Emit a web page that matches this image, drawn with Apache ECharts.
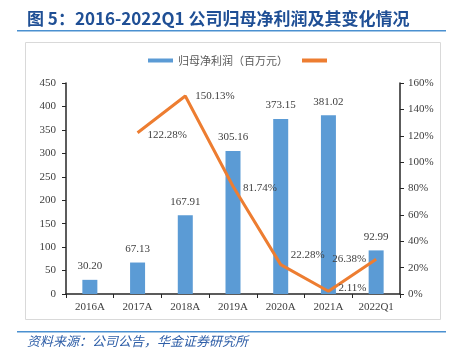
<!DOCTYPE html>
<html>
<head>
<meta charset="utf-8">
<script src="https://cdn.jsdelivr.net/npm/echarts@6/dist/echarts.min.js"></script>
<style>
  html, body { margin: 0; padding: 0; background: #fff; }
  #main { width: 458px; height: 354px; }
</style>
</head>
<body>
<div id="main"></div>
<script>
var categories = ['2016A', '2017A', '2018A', '2019A', '2020A', '2021A', '2022Q1'];
var netProfit = [30.20, 67.13, 167.91, 305.16, 373.15, 381.02, 92.99];
var growth = [null, 122.28, 150.13, 81.74, 22.28, 2.11, 26.38];
var growthLabelOffsets = [null, [0, 2], [0, 0], [0, 2], [0, -10], [0, -3], [0, 0]];

var serif = '"Liberation Serif", "Noto Sans CJK SC", serif';
var cjk = '"Noto Sans CJK SC", sans-serif';

var myChart = echarts.init(document.getElementById('main'));

var lineData = growth.map(function(v, i) {
	if (v === null) return null;
	return {
		value: v,
		label: {
			position: i === 6 ? 'left' : 'right',
			offset: growthLabelOffsets[i]
		}
	};
});

option = {
	animation: false,
	graphic: [
		{ type: 'text', left: 27, top: 10, style: { text: '图 5：2016-2022Q1 公司归母净利润及其变化情况', fill: '#1f4f95', font: 'bold 17px ' + cjk } },
		{ type: 'rect', shape: { x: 17, y: 30, width: 429, height: 1.5 }, style: { fill: '#4a90d0' } },
		{ type: 'rect', shape: { x: 25.5, y: 42.5, width: 415, height: 277 }, style: { fill: 'none', stroke: '#d9d9d9', lineWidth: 1 } },
		{ type: 'rect', shape: { x: 17, y: 331, width: 429, height: 1.5 }, style: { fill: '#4a90d0' } },
		{ type: 'text', left: 27, top: 335, style: { text: '资料来源：公司公告，华金证券研究所', fill: '#2f5fa8', font: 'italic 13px ' + cjk } }
	],
	legend: {
		top: 50,
		left: 143,
		itemGap: 14,
		itemWidth: 25,
		itemHeight: 4,
		textStyle: { color: '#595959', fontSize: 11, fontFamily: cjk },
		data: [
			{ name: '归母净利润（百万元）', icon: 'rect' },
			{ name: '归母净利润增速', icon: 'rect' }
		],
		formatter: function(name) { return name === '归母净利润增速' ? '' : name; }
	},
	grid: { left: 66, right: 58, top: 83, bottom: 60 },
	xAxis: {
		type: 'category',
		data: categories,
		axisLine: { lineStyle: { color: '#262626', width: 1.5 } },
		axisTick: { show: true, lineStyle: { color: '#262626' }, length: 4 },
		axisLabel: { color: '#404040', fontSize: 11, fontFamily: serif, margin: 8 }
	},
	yAxis: [
		{
			type: 'value',
			min: 0, max: 450, interval: 50,
			axisLine: { show: true, lineStyle: { color: '#262626', width: 1.5 } },
			axisTick: { show: true, inside: false, length: 4, lineStyle: { color: '#262626' } },
			splitLine: { show: false },
			axisLabel: { color: '#404040', fontSize: 11, fontFamily: serif, margin: 10 }
		},
		{
			type: 'value',
			min: 0, max: 160, interval: 20,
			axisLine: { show: true, lineStyle: { color: '#262626', width: 1.5 } },
			axisTick: { show: true, length: 4, lineStyle: { color: '#262626' } },
			splitLine: { show: false },
			axisLabel: { color: '#404040', fontSize: 11, fontFamily: serif, margin: 8, formatter: '{value}%' }
		}
	],
	series: [
		{
			name: '归母净利润（百万元）',
			type: 'bar',
			data: netProfit,
			barWidth: 15,
			itemStyle: { color: '#5b9bd5' },
			label: {
				show: true,
				position: 'top',
				distance: 8,
				color: '#404040',
				fontSize: 11,
				fontFamily: serif,
				formatter: function(p) { return p.value.toFixed(2); }
			}
		},
		{
			name: '归母净利润增速',
			type: 'line',
			yAxisIndex: 1,
			data: lineData,
			symbol: 'circle',
			symbolSize: 0.01,
			showSymbol: true,
			lineStyle: { color: '#ed7d31', width: 3 },
			itemStyle: { color: '#ed7d31' },
			label: {
				show: true,
				color: '#404040',
				fontSize: 11,
				fontFamily: serif,
				distance: 10,
				formatter: function(p) { return p.value.toFixed(2) + '%'; }
			}
		}
	]
};
myChart.setOption(option);
</script>
</body>
</html>
